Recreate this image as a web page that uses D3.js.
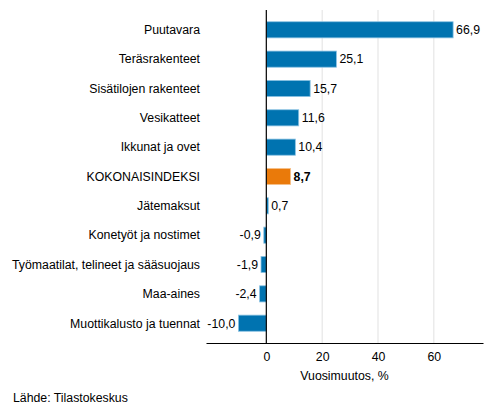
<!DOCTYPE html>
<html lang="fi">
<head>
<meta charset="utf-8">
<title>Vuosimuutos</title>
<script src="https://cdn.jsdelivr.net/npm/d3@7"></script>
<style>
  body { margin: 0; background: #fff; }
  svg text { font-family: "Liberation Sans", Arial, sans-serif; fill: #000; }
</style>
</head>
<body>
<div id="chart"></div>
<script>
// data
const categories = [
    "Puutavara", "Teräsrakenteet", "Sisätilojen rakenteet", "Vesikatteet",
    "Ikkunat ja ovet", "KOKONAISINDEKSI", "Jätemaksut", "Konetyöt ja nostimet",
    "Työmaatilat, telineet ja sääsuojaus", "Maa-aines", "Muottikalusto ja tuennat"
];
const values = [66.9, 25.1, 15.7, 11.6, 10.4, 8.7, 0.7, -0.9, -1.9, -2.4, -10.0];
const highlight = "KOKONAISINDEKSI";
const xTicks = [0, 20, 40, 60];

const width = 493, height = 416;
const plotLeft = 206, plotRight = 483, plotTop = 10, plotBottom = 343;
const fontSize = 12.3;

const svg = d3.select("#chart").append("svg")
    .attr("width", width)
    .attr("height", height);

const x = d3.scaleLinear()
    .domain([-21.6, 77.6])
    .range([plotLeft, plotRight]);

const y = d3.scaleBand()
    .domain(categories)
    .range([plotTop, plotBottom])
    .paddingInner(0.45)
    .paddingOuter(0.4);

const fmt = v => d3.format(".1f")(v).replace(".", ",").replace("−", "-");

// gridlines
svg.append("g")
    .selectAll("line")
    .data(xTicks.filter(d => d !== 0))
    .enter()
    .append("line")
    .attr("x1", d => x(d)).attr("x2", d => x(d))
    .attr("y1", plotTop).attr("y2", plotBottom)
    .attr("stroke", "#e1e1e1")
    .attr("stroke-width", 1);

// bars
svg.append("g")
    .selectAll("rect")
    .data(values)
    .enter()
    .append("rect")
    .attr("x", d => x(Math.min(0, d)))
    .attr("y", (d, i) => y(categories[i]))
    .attr("width", d => Math.abs(x(d) - x(0)))
    .attr("height", y.bandwidth())
    .attr("fill", (d, i) => categories[i] === highlight ? "#ea7a0a" : "#0073b0")
    .attr("stroke", (d, i) => categories[i] === highlight ? "#f5c28e" : "#8cc3e3")
    .attr("stroke-width", 0.8);

// value labels
svg.append("g")
    .selectAll("text")
    .data(values)
    .enter()
    .append("text")
    .attr("x", d => d >= 0 ? x(d) + 3 : x(d) - 3)
    .attr("y", (d, i) => y(categories[i]) + y.bandwidth() / 2)
    .attr("dy", "0.35em")
    .attr("text-anchor", d => d >= 0 ? "start" : "end")
    .attr("font-size", fontSize)
    .attr("font-weight", (d, i) => categories[i] === highlight ? "bold" : "normal")
    .text(d => fmt(d));

// category labels
svg.append("g")
    .selectAll("text")
    .data(categories)
    .enter()
    .append("text")
    .attr("x", 200)
    .attr("y", d => y(d) + y.bandwidth() / 2)
    .attr("dy", "0.35em")
    .attr("text-anchor", "end")
    .attr("font-size", fontSize)
    .text(d => d);

// zero line
svg.append("line")
    .attr("x1", x(0)).attr("x2", x(0))
    .attr("y1", plotTop).attr("y2", plotBottom)
    .attr("stroke", "#000")
    .attr("stroke-width", 1.2);

// x axis
const xAxis = svg.append("g")
    .attr("transform", "translate(0," + plotBottom + ")")
    .call(d3.axisBottom(x).tickValues(xTicks).tickSize(0).tickPadding(9).tickFormat(d => d));
xAxis.select(".domain").attr("stroke", "#000").attr("stroke-width", 1.2);
xAxis.selectAll("text").attr("font-size", fontSize).attr("fill", "#000");

svg.append("text")
    .attr("x", (plotLeft + plotRight) / 2)
    .attr("y", 380)
    .attr("text-anchor", "middle")
    .attr("font-size", fontSize)
    .text("Vuosimuutos, %");

svg.append("text")
    .attr("x", 13)
    .attr("y", 402)
    .attr("font-size", fontSize)
    .text("Lähde: Tilastokeskus");
</script>
</body>
</html>
